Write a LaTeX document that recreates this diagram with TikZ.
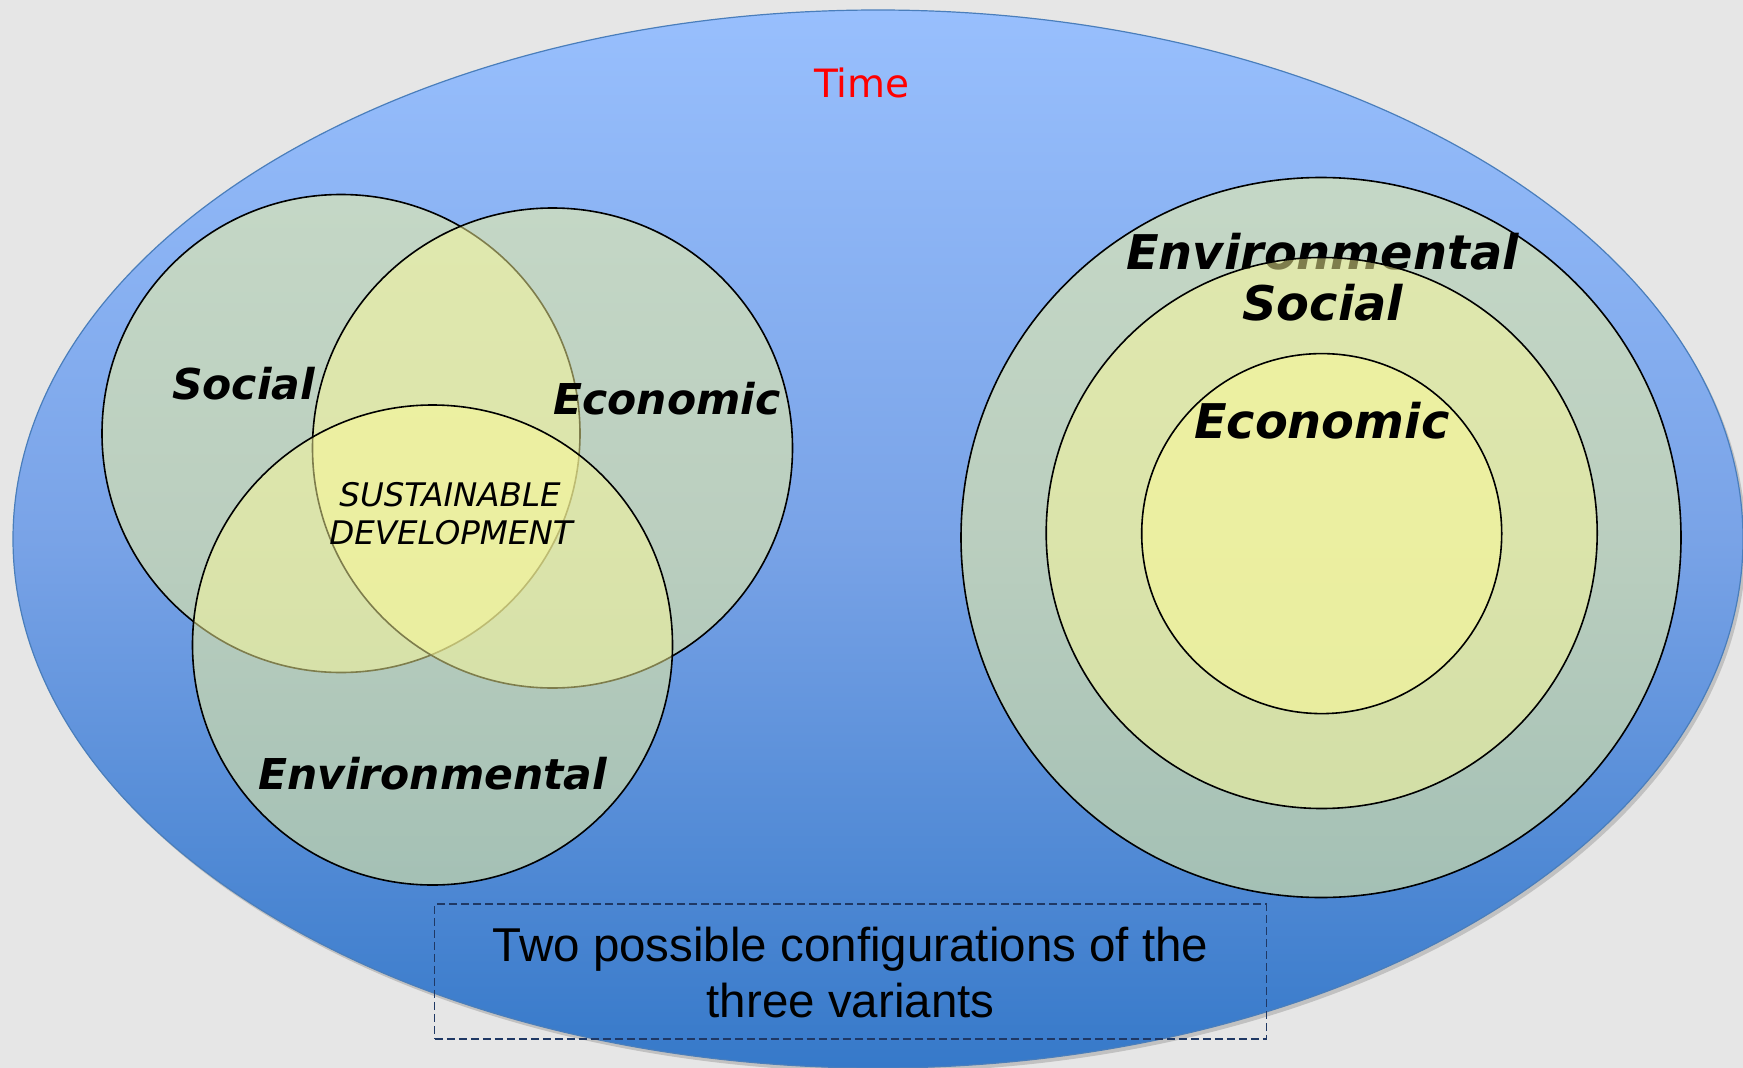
\documentclass[tikz,border=0pt]{standalone}
\usepackage{fontspec}
\setmainfont{DejaVu Sans}
\newfontfamily\arialf{Liberation Sans}
\definecolor{bgray}{RGB}{230,230,230}
\definecolor{ttop}{RGB}{152,191,253}
\definecolor{tmid}{RGB}{121,163,231}
\definecolor{tbot}{RGB}{54,121,201}
\definecolor{yfill}{RGB}{252,250,152}
\definecolor{eline}{RGB}{74,126,187}
\definecolor{navy}{RGB}{31,56,100}
\definecolor{timered}{RGB}{255,0,0}
\pgfdeclareverticalshading{timeshade}{100bp}{color(0bp)=(tbot); color(25bp)=(tbot); color(50bp)=(tmid); color(75bp)=(ttop); color(100bp)=(ttop)}
\tikzset{
  ring/.style={fill=yfill, fill opacity=0.5, draw=black, draw opacity=1, line width=1.6pt},
  venntext/.style={font=\fontsize{42.5}{50}\selectfont\bfseries\itshape, anchor=base, inner sep=0pt, text=black},
  nesttext/.style={font=\fontsize{47.8}{56}\selectfont\bfseries\itshape, anchor=base, inner sep=0pt, text=black},
  sdtext/.style={font=\fontsize{32.5}{38}\selectfont\itshape, anchor=base, inner sep=0pt, text=black},
  captext/.style={font=\arialf\fontsize{47.5}{56}\selectfont, anchor=base, inner sep=0pt, text=black},
}
\begin{document}
\begin{tikzpicture}[x=1pt, y=-1pt]
\useasboundingbox (0,0) rectangle (1743,1068);
\fill[bgray] (0,0) rectangle (1743,1068);
% shadow and time ellipse
\fill[black, opacity=0.16] (881,543) ellipse [x radius=865pt, y radius=529pt];
\path[shading=timeshade, shade, draw=eline, line width=1.2pt] (878,539) ellipse [x radius=865pt, y radius=529pt];
\node[font=\fontsize{39}{46}\selectfont, text=timered, anchor=base, inner sep=0pt] (time) at (862,97) {Time};
% Venn configuration
\coordinate (cs) at (341,433.5);
\coordinate (ce) at (552.5,448);
\coordinate (cv) at (432.5,645);
\path[ring] (cs) circle [radius=239pt];
\path[ring] (ce) circle [radius=240pt];
\path[ring] (cv) circle [radius=240pt];
\node[venntext] (vsoc) at (243.5,399.5) {Social};
\node[venntext] (veco) at (667,414) {Economic};
\node[venntext] (venv) at (432.5,789.3) {Environmental};
\node[sdtext] (sd1) at (450,506.7) {SUSTAINABLE};
\node[sdtext] (sd2) at (451,544) {DEVELOPMENT};
% nested configuration
\coordinate (no) at (1321,537.5);
\coordinate (nm) at (1321.7,533);
\coordinate (ni) at (1321.7,533.6);
\path[ring] (no) circle [radius=360pt];
\node[nesttext] (nenv) at (1322.5,269.3) {Environmental};
\path[ring] (nm) circle [radius=275.5pt];
\node[nesttext] (nsoc) at (1322.7,320.7) {Social};
\path[ring] (ni) circle [radius=180pt];
\node[nesttext] (neco) at (1321.7,438.8) {Economic};
% caption box
\node[draw=navy, dash pattern=on 8pt off 4pt, line width=1.3pt, minimum width=831.6pt, minimum height=135pt, inner sep=0pt] (capbox) at (850.6,971.5) {};
\node[captext] (cap1) at (850.6,961.7) {Two possible configurations of the};
\node[captext] (cap2) at (850.6,1017.7) {three variants};
\end{tikzpicture}
\end{document}
